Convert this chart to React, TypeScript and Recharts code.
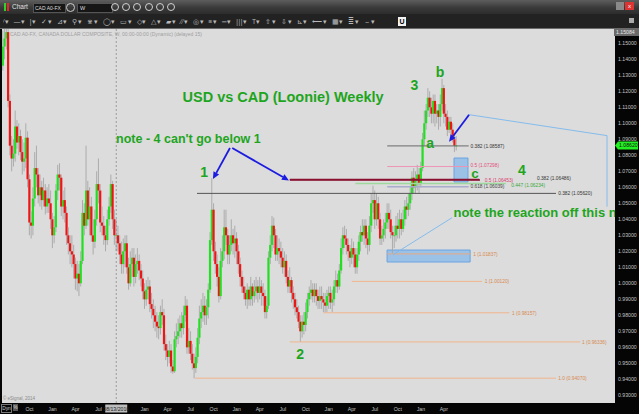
import React from 'react';
import { ComposedChart, Bar, XAxis, YAxis, ReferenceLine, ReferenceArea, ReferenceDot } from 'recharts';

// ---------- DATA ----------
const firstOpen = 1.136;
const closes = [
  1.148, 1.153, 1.157, 1.114, 1.086, 1.078, 1.081, 1.098, 1.088, 1.092,
  1.082, 1.076, 1.078, 1.091, 1.065, 1.038, 1.036, 1.053, 1.072, 1.068,
  1.055, 1.060, 1.052, 1.058, 1.048, 1.053, 1.050, 1.040, 1.030, 1.035,
  1.058, 1.068, 1.066, 1.048, 1.052, 1.044, 1.030, 1.025, 1.020, 1.018,
  1.012, 1.003, 1.006, 1.000, 1.014, 1.044, 1.036, 1.058, 1.040, 1.048,
  1.030, 1.026, 1.040, 1.062, 1.058, 1.038, 1.036, 1.030, 1.027, 1.040,
  1.048, 1.062, 1.040, 1.030, 1.030, 1.025, 1.018, 1.012, 1.020, 1.025,
  1.010, 1.000, 1.012, 1.016, 1.004, 1.012, 1.014, 1.008, 1.003, 0.995,
  0.990, 0.996, 0.998, 0.987, 0.984, 0.980, 0.976, 0.973, 0.972, 0.982,
  0.980, 0.962, 0.958, 0.954, 0.958, 0.948, 0.945, 0.965, 0.967, 0.970,
  0.975, 0.972, 0.980, 0.986, 0.960, 0.964, 0.956, 0.950, 0.947, 0.954,
  0.966, 0.978, 0.982, 0.986, 0.980, 0.985, 0.996, 1.027, 1.046, 1.020,
  1.012, 1.004, 0.992, 1.014, 1.020, 1.035, 1.030, 1.018, 1.024, 1.030,
  1.025, 1.028, 1.020, 1.012, 1.004, 0.998, 0.994, 0.990, 0.996, 0.990,
  0.998, 0.992, 0.995, 0.998, 0.994, 0.998, 0.994, 0.992, 0.982, 0.986,
  1.016, 1.024, 1.036, 1.030, 1.018, 1.022, 1.020, 1.016, 1.010, 1.014,
  1.004, 0.998, 1.002, 0.994, 0.990, 0.985, 0.982, 0.976, 0.970, 0.976,
  0.974, 0.982, 0.990, 0.994, 0.996, 0.992, 0.996, 0.992, 0.989, 0.992,
  0.990, 0.988, 0.986, 0.992, 0.994, 0.988, 0.990, 0.998, 1.002, 0.998,
  1.008, 1.022, 1.030, 1.028, 1.024, 1.020, 1.016, 1.022, 1.018, 1.010,
  1.018, 1.026, 1.032, 1.030, 1.036, 1.028, 1.024, 1.036, 1.050, 1.052,
  1.040, 1.050, 1.040, 1.028, 1.030, 1.034, 1.038, 1.044, 1.040, 1.032,
  1.030, 1.030, 1.036, 1.034, 1.040, 1.034, 1.040, 1.048, 1.046, 1.050,
  1.056, 1.066, 1.060, 1.064, 1.068, 1.062, 1.072, 1.090, 1.100, 1.108,
  1.116, 1.110, 1.106, 1.114, 1.106, 1.108, 1.104, 1.112, 1.122, 1.106,
  1.104, 1.096, 1.101, 1.096, 1.090, 1.086, 1.0862,
];
const highs = [
  1.158, 1.160, 1.163, 1.160, 1.118, 1.092, 1.090, 1.108, 1.102, 1.100,
  1.096, 1.090, 1.088, 1.100, 1.095, 1.068, 1.045, 1.060, 1.082, 1.086,
  1.072, 1.068, 1.064, 1.066, 1.062, 1.060, 1.062, 1.058, 1.044, 1.042,
  1.062, 1.074, 1.075, 1.068, 1.058, 1.060, 1.048, 1.035, 1.030, 1.030,
  1.024, 1.016, 1.014, 1.012, 1.020, 1.052, 1.050, 1.086, 1.064, 1.060,
  1.054, 1.040, 1.046, 1.070, 1.078, 1.062, 1.048, 1.042, 1.036, 1.046,
  1.054, 1.068, 1.064, 1.046, 1.040, 1.036, 1.030, 1.026, 1.028, 1.030,
  1.030, 1.016, 1.020, 1.022, 1.022, 1.018, 1.022, 1.018, 1.012, 1.008,
  1.000, 1.002, 1.004, 1.002, 0.994, 0.990, 0.986, 0.982, 0.980, 0.986,
  0.990, 0.984, 0.968, 0.962, 0.964, 0.962, 0.952, 0.970, 0.975, 0.978,
  0.980, 0.982, 0.986, 0.992, 0.990, 0.972, 0.970, 0.962, 0.956, 0.960,
  0.972, 0.986, 0.990, 0.994, 0.992, 0.990, 1.000, 1.032, 1.0657, 1.050,
  1.026, 1.018, 1.010, 1.022, 1.030, 1.046, 1.046, 1.034, 1.030, 1.040,
  1.034, 1.036, 1.032, 1.024, 1.016, 1.008, 1.004, 0.998, 1.000, 0.998,
  1.004, 1.000, 1.002, 1.004, 1.002, 1.004, 1.002, 1.000, 0.996, 0.992,
  1.020, 1.030, 1.042, 1.041, 1.034, 1.030, 1.028, 1.026, 1.022, 1.020,
  1.018, 1.008, 1.010, 1.004, 0.998, 0.994, 0.990, 0.986, 0.980, 0.980,
  0.982, 0.988, 0.994, 0.998, 1.002, 1.000, 1.000, 1.000, 0.996, 0.998,
  0.998, 0.994, 0.994, 0.996, 0.998, 0.998, 0.996, 1.002, 1.008, 1.006,
  1.012, 1.028, 1.035, 1.036, 1.034, 1.028, 1.024, 1.028, 1.026, 1.022,
  1.022, 1.030, 1.036, 1.040, 1.040, 1.040, 1.032, 1.042, 1.056, 1.061,
  1.058, 1.056, 1.054, 1.044, 1.036, 1.040, 1.044, 1.050, 1.050, 1.046,
  1.036, 1.036, 1.042, 1.044, 1.046, 1.044, 1.046, 1.052, 1.054, 1.056,
  1.060, 1.070, 1.072, 1.070, 1.074, 1.072, 1.076, 1.094, 1.108, 1.112,
  1.122, 1.120, 1.116, 1.118, 1.118, 1.112, 1.112, 1.118, 1.1278, 1.124,
  1.112, 1.108, 1.104, 1.104, 1.100, 1.094, 1.092,
];
const lows = [
  1.133, 1.140, 1.146, 1.110, 1.080, 1.070, 1.073, 1.076, 1.084, 1.080,
  1.077, 1.068, 1.070, 1.072, 1.060, 1.030, 1.028, 1.030, 1.048, 1.060,
  1.050, 1.048, 1.046, 1.048, 1.043, 1.044, 1.044, 1.034, 1.022, 1.025,
  1.032, 1.052, 1.058, 1.042, 1.040, 1.038, 1.024, 1.018, 1.012, 1.010,
  1.003, 0.996, 0.995, 0.992, 0.998, 1.012, 1.030, 1.034, 1.036, 1.030,
  1.026, 1.018, 1.022, 1.036, 1.050, 1.032, 1.030, 1.024, 1.020, 1.024,
  1.036, 1.044, 1.034, 1.024, 1.020, 1.020, 1.012, 1.006, 1.006, 1.010,
  1.006, 0.996, 0.998, 1.004, 0.998, 1.000, 1.006, 1.002, 0.998, 0.990,
  0.984, 0.986, 0.990, 0.982, 0.978, 0.972, 0.970, 0.966, 0.965, 0.968,
  0.974, 0.958, 0.952, 0.948, 0.950, 0.944, 0.9435, 0.944, 0.960, 0.962,
  0.966, 0.966, 0.968, 0.976, 0.956, 0.956, 0.952, 0.946, 0.9406, 0.944,
  0.950, 0.962, 0.972, 0.976, 0.974, 0.974, 0.978, 0.994, 1.024, 1.014,
  1.006, 0.998, 0.988, 0.990, 1.010, 1.015, 1.024, 1.012, 1.012, 1.020,
  1.018, 1.016, 1.012, 1.006, 0.998, 0.994, 0.990, 0.986, 0.984, 0.986,
  0.986, 0.986, 0.988, 0.990, 0.988, 0.990, 0.986, 0.986, 0.978, 0.978,
  0.984, 1.012, 1.020, 1.022, 1.014, 1.014, 1.012, 1.010, 1.006, 1.004,
  1.000, 0.994, 0.994, 0.988, 0.984, 0.980, 0.978, 0.972, 0.9633, 0.966,
  0.968, 0.970, 0.978, 0.986, 0.990, 0.988, 0.988, 0.986, 0.984, 0.984,
  0.984, 0.982, 0.982, 0.982, 0.984, 0.984, 0.982, 0.986, 0.994, 0.994,
  0.996, 1.006, 1.018, 1.022, 1.018, 1.014, 1.010, 1.012, 1.010, 1.006,
  1.006, 1.014, 1.020, 1.026, 1.024, 1.022, 1.018, 1.020, 1.032, 1.044,
  1.034, 1.036, 1.034, 1.024, 1.024, 1.026, 1.028, 1.034, 1.034, 1.028,
  1.0184, 1.022, 1.026, 1.028, 1.028, 1.030, 1.032, 1.036, 1.040, 1.042,
  1.046, 1.052, 1.056, 1.056, 1.058, 1.056, 1.060, 1.070, 1.086, 1.096,
  1.104, 1.104, 1.100, 1.100, 1.098, 1.100, 1.096, 1.098, 1.108, 1.100,
  1.098, 1.092, 1.094, 1.092, 1.088, 1.082, 1.083,
];

const priceTicks = [0.93, 0.94, 0.95, 0.96, 0.97, 0.98, 0.99, 1.0, 1.01, 1.02, 1.03, 1.04, 1.05, 1.06, 1.07, 1.08, 1.09, 1.1, 1.11, 1.12, 1.13, 1.14, 1.15];
const timeTicks = [15, 28, 41, 54, 64, 80, 93, 106, 119, 132, 145, 158, 171, 184, 197, 210, 223, 236, 249];
const timeLabels = ['Oct', 'Jan', 'Apr', 'Jul', '08/13/2010', 'Jan', 'Apr', 'Jul', 'Oct', 'Jan', 'Apr', 'Jul', 'Oct', 'Jan', 'Apr', 'Jul', 'Oct', 'Jan', 'Apr'];
const crosshairWeek = 64;

const fibLabels = ['0.382 (1.08587)', '0.5 (1.07298)', '0.382 (1.06486)', '0.5 (1.06453)', '0.447 (1.06234)', '0.618 (1.06039)', '0.382 (1.05620)', '1 (1.01837)', '1 (1.00120)', '1 (0.98157)', '1 (0.96336)', '1.0 (0.94070)'];
const fibValues = [1.08587, 1.07298, 1.06486, 1.06453, 1.06234, 1.06039, 1.0562, 1.01837, 1.0012, 0.98157, 0.96336, 0.9407];
const fibFrom = [217, 217, 162, 162, 199, 217, 109.6, 217, 197, 181, 162, 108.5];
const fibTo = [263, 263, 269, 269.4, 284, 263, 312.3, 264, 270.5, 286, 326, 312.3];
const fibLabelAt = [264, 264, 301.5, 272, 287, 264, 313.5, 265.5, 272, 287.5, 327, 313.5];
const fibLabelShift = [0, -1, -1.5, 0, 1.2, 0, 0, 0, 0, 0, 0, 0];
const fibColors = ['#6a6a6a', '#ee94b4', '#8a1030', '#8a1030', '#9fd89f', '#a8accc', '#555555', '#e8aa80', '#f2b48c', '#f2b48c', '#f2b48c', '#f2b48c'];
const fibTextColors = ['#333', '#e0507e', '#333', '#d8406e', '#3aa83a', '#444', '#333', '#d88a50', '#d88a50', '#d88a50', '#d88a50', '#d88a50'];
const fibWidths = [1, 1, 1.4, 1.4, 1.4, 1.6, 1, 1, 1, 1, 1, 1];

const waveTexts = ['USD vs CAD (Loonie) Weekly', "note - 4 can't go below 1", 'note the reaction off this n', '1', '2', '3', 'a', 'b', 'c', '4'];
const waveWeeks = [158.2, 63.9, 254.4, 113.6, 167.8, 232.3, 241.2, 246.8, 266.6, 293.1];
const wavePrices = [1.1164, 1.0902, 1.044, 1.0696, 0.9558, 1.1239, 1.0877, 1.1321, 1.0686, 1.0708];

const arrowFrom = [[128.2, 1.0846], [129.5, 1.0846], [263.2, 1.1054]];
const arrowTo = [[118.6, 1.0652], [161.5, 1.0642], [251.9, 1.0885]];
const guideFrom = [[263.2, 1.1054], [341.1, 1.0923], [220.3, 1.0179]];
const guideTo = [[341.1, 1.0923], [341.1, 1.0479], [253.6, 1.041]];

const boxWeeks = [[254.7, 262.6], [216.9, 263.8]];
const boxPrices = [[1.0633, 1.0783], [1.0133, 1.0208]];

// ---------- BUILD ----------
const candles = closes.map((c, i) => {
  const o = i === 0 ? firstOpen : closes[i - 1];
  const h = Math.max(highs[i], o, c);
  const l = Math.min(lows[i], o, c);
  return { i, o, h, l, c, range: [l, h] };
});
const lastClose = closes[closes.length - 1];

const priceMin = 0.92519;
const priceMax = 1.15894;
const weekMin = -0.5;
const weekMax = 345.6;
const PLOT_RIGHT = 615;

const FONT = '"Liberation Sans", Arial, sans-serif';
const GREEN_TEXT = '#1ea51e';

const Candle = (props: any) => {
  const { x, y, width, height, payload } = props;
  if (!payload || x == null) return null;
  const cx = x + width / 2;
  const top = Math.min(y, y + height);
  const bot = Math.max(y, y + height);
  const span = payload.h - payload.l || 1e-6;
  const k = (bot - top) / span;
  const bt = top + (payload.h - Math.max(payload.o, payload.c)) * k;
  const bb = top + (payload.h - Math.min(payload.o, payload.c)) * k;
  const up = payload.c >= payload.o;
  return (
    <g>
      <line x1={cx} x2={cx} y1={top} y2={bot} stroke="#a6a6a6" strokeWidth={0.9} />
      <rect x={cx - 1.1} y={bt} width={2.2} height={Math.max(bb - bt, 0.9)} fill={up ? '#21e021' : '#ee1515'} />
    </g>
  );
};

const makeArrow = (color: string, sw: number, head: boolean) => (p: any) => {
  const { x1, y1, x2, y2 } = p;
  if (x1 == null) return null;
  const ang = Math.atan2(y2 - y1, x2 - x1);
  const L = 7;
  const Wd = 3.2;
  const bx = x2 - L * Math.cos(ang);
  const by = y2 - L * Math.sin(ang);
  const pts = `${x2},${y2} ${bx + Wd * Math.sin(ang)},${by - Wd * Math.cos(ang)} ${bx - Wd * Math.sin(ang)},${by + Wd * Math.cos(ang)}`;
  return (
    <g>
      <line x1={x1} y1={y1} x2={head ? bx : x2} y2={head ? by : y2} stroke={color} strokeWidth={sw} />
      {head && <polygon points={pts} fill={color} />}
    </g>
  );
};

const makeFib = (idx: number) => (p: any) => {
  const { x1, y1, x2, y2 } = p;
  if (x1 == null) return null;
  const pxPerWeek = (x2 - x1) / (fibTo[idx] - fibFrom[idx]);
  const lx = x1 + (fibLabelAt[idx] - fibFrom[idx]) * pxPerWeek;
  return (
    <g>
      <line x1={x1} y1={y1} x2={x2} y2={y2} stroke={fibColors[idx]} strokeWidth={fibWidths[idx]} />
      <text x={lx} y={y1 + 1.8 + fibLabelShift[idx]} fontSize={4.8} fill={fibTextColors[idx]} fontFamily={FONT}>{fibLabels[idx]}</text>
    </g>
  );
};

const waveSizes = [14.5, 12.5, 13, 14, 14, 14, 14, 14, 13.5, 14];
const waveAnchors = ['middle', 'start', 'start', 'middle', 'middle', 'middle', 'middle', 'middle', 'middle', 'middle'];
const makeText = (idx: number) => (p: any) => (
  <svg x={0} y={0} width={PLOT_RIGHT} height={400} overflow="hidden">
    <text x={p.cx} y={p.cy} fontSize={waveSizes[idx]} fontWeight="bold" fill={GREEN_TEXT} textAnchor={waveAnchors[idx] as any} dominantBaseline="central" fontFamily={FONT}>
      {waveTexts[idx]}
    </text>
  </svg>
);

const PriceTick = (p: any) => {
  const { x, y, payload } = p;
  return (
    <text x={x + 3} y={y + 1.8} fontSize={5.2} fill="#c4c4c4" fontFamily={FONT}>
      {Number(payload.value).toFixed(5)}
    </text>
  );
};

const TimeTick = (p: any) => {
  const { x, y, payload } = p;
  const idx = timeTicks.indexOf(payload.value);
  const label = timeLabels[idx];
  if (payload.value === crosshairWeek) {
    return (
      <g>
        <rect x={x - 11} y={y + 1.5} width={22} height={8} fill="#bdbdbd" />
        <text x={x} y={y + 7.5} fontSize={5.2} fill="#222" textAnchor="middle" fontFamily={FONT}>{label}</text>
      </g>
    );
  }
  return (
    <text x={x} y={y + 7.5} fontSize={5.2} fill="#c4c4c4" textAnchor="middle" fontFamily={FONT}>{label}</text>
  );
};

const PriceTag = (p: any) => {
  const { x1, x2, y1 } = p;
  if (x2 == null) return null;
  const xr = Math.max(x1, x2);
  return (
    <g>
      <polygon points={`${xr},${y1} ${xr + 3},${y1 - 4} ${xr + 23},${y1 - 4} ${xr + 23},${y1 + 4} ${xr + 3},${y1 + 4}`} fill="#22f022" />
      <text x={xr + 4} y={y1 + 1.8} fontSize={5.2} fill="#111" fontFamily={FONT}>{lastClose.toFixed(5)}</text>
    </g>
  );
};

const toolIcons = ['⁄▾', '—▾', '|▾', '✓▾', '⊿▾', '⚲▾', '⋇▾', '◯▾', '▭▾', '◇▾', '△▾', '▰▾', '⁄⁄▾', '◎▾', '≡▾', '═▾', '|||▾', 'T▾', '⇧▾', '⇩▾', '⊾▾', '⟵▾', '▦▾', '≣▾', '⇔▾'];

export default function App() {
  return (
    <div style={{ position: 'absolute', left: 0, top: 0, width: 639, height: 414, background: '#050505', overflow: 'hidden', fontFamily: FONT }}>
      {/* title bar */}
      <div style={{ position: 'absolute', left: 0, top: 0, width: 639, height: 14, background: 'linear-gradient(#5e5e5e, #3a3a3a 55%, #2c2c2c)' }} />
      <div style={{ position: 'absolute', left: 4, top: 3, width: 2, height: 8, background: '#2fd12f' }} />
      <div style={{ position: 'absolute', left: 7, top: 3, width: 2, height: 8, background: '#e22' }} />
      <div style={{ position: 'absolute', left: 12, top: 3, fontSize: 6.5, lineHeight: '8px', color: '#e0e0e0' }}>Chart</div>
      <div style={{ position: 'absolute', left: 33, top: 3, width: 30, height: 8, background: '#161616', border: '1px solid #555', fontSize: 5, color: '#ddd', lineHeight: '8px', paddingLeft: 1, whiteSpace: 'nowrap' }}>CAD A0-FX</div>
      <div style={{ position: 'absolute', left: 66, top: 3, width: 7, height: 7, borderRadius: 5, border: '1px solid #ccc' }} />
      <div style={{ position: 'absolute', left: 77, top: 3, width: 32, height: 8, background: '#161616', border: '1px solid #555', fontSize: 5.5, color: '#ddd', lineHeight: '8px', paddingLeft: 2 }}>W</div>
      {[111, 122, 133, 145, 156, 167].map((x, k) => (
        <div key={k} style={{ position: 'absolute', left: x, top: 3, width: 6, height: 6, borderRadius: 5, border: '1.5px solid #d0d0d0' }} />
      ))}
      <div style={{ position: 'absolute', left: 616, top: 2, width: 8, height: 8, background: '#8a8a8a' }} />
      <div style={{ position: 'absolute', left: 625, top: 2, width: 9, height: 8, background: '#d33', color: '#fff', fontSize: 6, lineHeight: '8px', textAlign: 'center' }}>x</div>
      {/* toolbar */}
      <div style={{ position: 'absolute', left: 0, top: 14, width: 639, height: 14, background: '#222' }} />
      <div style={{ position: 'absolute', left: 3, top: 17, width: 390, height: 9, overflow: 'hidden', fontSize: 6.5, lineHeight: '9px', color: '#b8b8b8', whiteSpace: 'nowrap', letterSpacing: 0.6, wordSpacing: 2 }}>
        {toolIcons.join(' ')}
      </div>
      <div style={{ position: 'absolute', left: 398, top: 17, width: 8, height: 9, background: '#f2f2f2', color: '#000', fontSize: 7, fontWeight: 'bold', lineHeight: '9px', textAlign: 'center' }}>U</div>
      <div style={{ position: 'absolute', left: 629, top: 18, width: 5, height: 5, background: '#aaa' }} />
      <div style={{ position: 'absolute', left: 0, top: 28, width: 639, height: 1, background: '#6a6a6a' }} />

      {/* plot background */}
      <div style={{ position: 'absolute', left: 2, top: 29, width: 613, height: 374, background: '#dcdcdc' }} />

      <div style={{ position: 'absolute', left: 0, top: 28 }}>
        <ComposedChart width={639} height={386} data={candles} margin={{ top: 1, right: 0, bottom: 0, left: 2 }}>
          <XAxis
            type="number"
            dataKey="i"
            domain={[weekMin, weekMax]}
            allowDataOverflow
            ticks={timeTicks}
            interval={0}
            tick={<TimeTick />}
            tickSize={0}
            tickMargin={0}
            axisLine={false}
            tickLine={false}
            height={11}
          />
          <YAxis
            orientation="right"
            type="number"
            domain={[priceMin, priceMax]}
            allowDataOverflow
            ticks={priceTicks}
            interval={0}
            tick={<PriceTick />}
            tickSize={0}
            tickMargin={0}
            axisLine={false}
            tickLine={false}
            width={24}
          />
          <ReferenceLine x={crosshairWeek} stroke="#8a8a8a" strokeDasharray="2 2" strokeWidth={0.8} />
          {boxWeeks.map((bw, k) => (
            <ReferenceArea key={'box' + k} x1={bw[0]} x2={bw[1]} y1={boxPrices[k][0]} y2={boxPrices[k][1]} fill="#90bce8" fillOpacity={0.85} stroke="#6aa4e0" strokeWidth={1} ifOverflow="visible" />
          ))}
          {fibValues.map((v, k) => (
            <ReferenceLine key={'fib' + k} segment={[{ x: fibFrom[k], y: v }, { x: fibTo[k], y: v }]} shape={makeFib(k)} ifOverflow="visible" />
          ))}
          <Bar dataKey="range" shape={<Candle />} isAnimationActive={false} barSize={2} />
          {guideFrom.map((f, k) => (
            <ReferenceLine key={'g' + k} segment={[{ x: f[0], y: f[1] }, { x: guideTo[k][0], y: guideTo[k][1] }]} shape={makeArrow('#7ab8ee', 0.9, false)} ifOverflow="visible" />
          ))}
          {arrowFrom.map((f, k) => (
            <ReferenceLine key={'a' + k} segment={[{ x: f[0], y: f[1] }, { x: arrowTo[k][0], y: arrowTo[k][1] }]} shape={makeArrow('#1c1ce0', 1.8, true)} ifOverflow="visible" />
          ))}
          {waveTexts.map((t, k) => (
            <ReferenceDot key={'t' + k} x={waveWeeks[k]} y={wavePrices[k]} r={1} shape={makeText(k)} ifOverflow="visible" />
          ))}
          <ReferenceLine y={lastClose} shape={<PriceTag />} ifOverflow="visible" />
        </ComposedChart>
      </div>

      <div style={{ position: 'absolute', left: 614, top: 28, width: 23, height: 8, background: '#6a6a6a', color: '#e8e8e8', fontSize: 5.2, lineHeight: '8px', paddingLeft: 2 }}>1.15084</div>
      <div style={{ position: 'absolute', left: 10, top: 31, fontSize: 5, color: '#a0a0a0', whiteSpace: 'nowrap' }}>CAD A0-FX, CANADA DOLLAR COMPOSITE, W, 00:00-00:00 (Dynamic) (delayed 15)</div>
      <div style={{ position: 'absolute', left: 3, top: 396, fontSize: 4.5, color: '#8a8a8a', whiteSpace: 'nowrap' }}>© eSignal, 2014</div>
      <div style={{ position: 'absolute', left: 1, top: 404, width: 9, height: 7, border: '1px solid #777', fontSize: 4.8, color: '#ccc', lineHeight: '7px', textAlign: 'center' }}>Dyn</div>
      <div style={{ position: 'absolute', left: 13, top: 404, width: 5, height: 7, background: '#555', fontSize: 4.5, color: '#ddd', lineHeight: '7px', textAlign: 'center' }}>%</div>
    </div>
  );
}
